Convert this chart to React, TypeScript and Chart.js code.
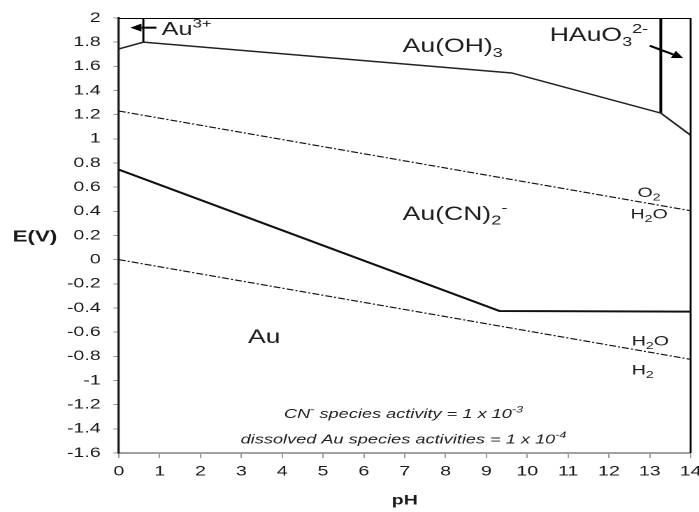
import React, { useEffect, useRef } from 'react';
import { Chart, registerables } from 'chart.js';

Chart.register(...registerables);

// ---------- data ----------
const xTickValues = [0, 1, 2, 3, 4, 5, 6, 7, 8, 9, 10, 11, 12, 13, 14];
const yRange = [-1.6, 2];
const yStep = 0.2;

// Au | Au(CN)2- boundary
const auCnPH = [0, 9.32, 14];
const auCnE = [0.745, -0.425, -0.43];
// Au(CN)2- | Au3+ / Au(OH)3 / HAuO3 2- boundary
const upperPH = [0, 0.6, 9.62, 13.27, 14];
const upperE = [1.744, 1.8, 1.545, 1.213, 1.03];
// Au3+ | Au(OH)3 boundary
const au3PH = [0.6, 0.6];
const au3E = [1.8, 2.0];
// Au(OH)3 | HAuO3 2- boundary
const hauPH = [13.27, 13.27];
const hauE = [1.213, 2.0];
// water stability lines
const o2PH = [0, 14];
const o2E = [1.23, 0.405];
const h2PH = [0, 14];
const h2E = [0, -0.825];

// arrows [pH, E]
const arrowAu3 = { from: [0.92, 1.92], to: [0.28, 1.92] };
const arrowHAuO3 = { from: [13.0, 1.77], to: [13.82, 1.668] };

// ---------- presentation ----------
const FONT = '"Liberation Sans", Arial, Helvetica, sans-serif';
const CW = 500;
const CH = 512;
const S = 699 / CW;

type Seg = { t: string; s?: 'sub' | 'sup' };
type Lbl = { segs: Seg[]; pH: number; E: number; size: number; italic?: boolean; align?: 'left' | 'center' };

const labels: Lbl[] = [
  { segs: [{ t: 'Au' }, { t: '3+', s: 'sup' }], pH: 1.05, E: 1.86, size: 18 },
  { segs: [{ t: 'Au(OH)' }, { t: '3', s: 'sub' }], pH: 6.95, E: 1.72, size: 19 },
  { segs: [{ t: 'HAuO' }, { t: '3', s: 'sub' }, { t: '2-', s: 'sup' }], pH: 10.55, E: 1.81, size: 19 },
  { segs: [{ t: 'Au(CN)' }, { t: '2', s: 'sub' }, { t: '-', s: 'sup' }], pH: 6.95, E: 0.33, size: 19 },
  { segs: [{ t: 'Au' }], pH: 3.16, E: -0.69, size: 19 },
  { segs: [{ t: 'O' }, { t: '2', s: 'sub' }], pH: 12.7, E: 0.52, size: 14 },
  { segs: [{ t: 'H' }, { t: '2', s: 'sub' }, { t: 'O' }], pH: 12.53, E: 0.34, size: 14 },
  { segs: [{ t: 'H' }, { t: '2', s: 'sub' }, { t: 'O' }], pH: 12.56, E: -0.71, size: 14 },
  { segs: [{ t: 'H' }, { t: '2', s: 'sub' }], pH: 12.56, E: -0.95, size: 14 },
  {
    segs: [{ t: 'CN' }, { t: '-', s: 'sup' }, { t: ' species activity = 1 x 10' }, { t: '-3', s: 'sup' }],
    pH: 6.97, E: -1.31, size: 13, italic: true, align: 'center',
  },
  {
    segs: [{ t: 'dissolved Au species activities = 1 x 10' }, { t: '-4', s: 'sup' }],
    pH: 6.97, E: -1.52, size: 13, italic: true, align: 'center',
  },
];

function drawRich(ctx: CanvasRenderingContext2D, x: number, y: number, segs: Seg[], size: number,
  italic = false, bold = false, align: 'left' | 'center' = 'left') {
  const fontFor = (sz: number) => `${italic ? 'italic ' : ''}${bold ? 'bold ' : ''}${sz}px ${FONT}`;
  const parts = segs.map((seg) => {
    const sz = seg.s ? Math.round(size * 0.68) : size;
    ctx.font = fontFor(sz);
    return { ...seg, sz, w: ctx.measureText(seg.t).width };
  });
  const total = parts.reduce((a, p) => a + p.w, 0);
  let cx = align === 'center' ? x - total / 2 : x;
  ctx.textAlign = 'left';
  ctx.textBaseline = 'alphabetic';
  for (const p of parts) {
    ctx.font = fontFor(p.sz);
    const dy = p.s === 'sub' ? size * 0.26 : p.s === 'sup' ? -size * 0.42 : 0;
    ctx.fillText(p.t, cx, y + dy);
    cx += p.w;
  }
}

function drawArrow(ctx: CanvasRenderingContext2D, x0: number, y0: number, x1: number, y1: number) {
  const ang = Math.atan2(y1 - y0, x1 - x0);
  const len = 8;
  const hw = 4;
  const bx = x1 - Math.cos(ang) * len;
  const by = y1 - Math.sin(ang) * len;
  ctx.beginPath();
  ctx.moveTo(x0, y0);
  ctx.lineTo(bx, by);
  ctx.lineWidth = 2;
  ctx.strokeStyle = '#000';
  ctx.stroke();
  ctx.beginPath();
  ctx.moveTo(x1, y1);
  ctx.lineTo(bx + Math.sin(ang) * hw, by - Math.cos(ang) * hw);
  ctx.lineTo(bx - Math.sin(ang) * hw, by + Math.cos(ang) * hw);
  ctx.closePath();
  ctx.fillStyle = '#000';
  ctx.fill();
}

const decor = {
  id: 'decor',
  afterDatasetsDraw(chart: any) {
    const { ctx, chartArea } = chart;
    const xs = chart.scales.x;
    const ys = chart.scales.y;
    ctx.save();
    // top & right frame
    ctx.strokeStyle = '#000';
    ctx.lineWidth = 1;
    ctx.beginPath();
    ctx.moveTo(chartArea.left, chartArea.top + 0.5);
    ctx.lineTo(chartArea.right, chartArea.top + 0.5);
    ctx.stroke();
    ctx.lineWidth = 1.4;
    ctx.beginPath();
    ctx.moveTo(chartArea.right, chartArea.top);
    ctx.lineTo(chartArea.right, chartArea.bottom);
    ctx.stroke();

    // arrows
    for (const a of [arrowAu3, arrowHAuO3]) {
      drawArrow(ctx, xs.getPixelForValue(a.from[0]), ys.getPixelForValue(a.from[1]),
        xs.getPixelForValue(a.to[0]), ys.getPixelForValue(a.to[1]));
    }

    // labels
    ctx.fillStyle = '#1e1e1e';
    for (const l of labels) {
      drawRich(ctx, xs.getPixelForValue(l.pH), ys.getPixelForValue(l.E), l.segs, l.size,
        !!l.italic, false, l.align || 'left');
    }

    // y axis title (horizontal)
    ctx.fillStyle = '#1a1a1a';
    drawRich(ctx, chartArea.left - 60, ys.getPixelForValue(0.2) + 6, [{ t: 'E(V)' }], 16, false, true, 'center');
    ctx.restore();
  },
};

function fmt(v: number) {
  const s = Number(v).toFixed(1);
  return s.endsWith('.0') ? s.slice(0, -2).replace('-0', '0') : s;
}

const pts = (xs: number[], ys: number[]) => xs.map((x, i) => ({ x, y: ys[i] }));

export default function App() {
  const ref = useRef<HTMLCanvasElement>(null);
  useEffect(() => {
    const canvas = ref.current;
    if (!canvas) return;
    const line = (data: any, width: number, color: string, dash: number[] = []) => ({
      data, showLine: true, borderColor: color, borderWidth: width, borderDash: dash,
      pointRadius: 0, pointHoverRadius: 0, fill: false, tension: 0,
    });
    const dashDot = [5, 1.5, 1.5, 1.5];
    const chart = new Chart(canvas, {
      type: 'scatter',
      data: {
        datasets: [
          line(pts(o2PH, o2E), 1.2, '#111', dashDot),
          line(pts(h2PH, h2E), 1.2, '#111', dashDot),
          line(pts(auCnPH, auCnE), 2, '#111'),
          line(pts(upperPH, upperE), 1.5, '#222'),
          line(pts(au3PH, au3E), 1.5, '#000'),
          line(pts(hauPH, hauE), 2, '#000'),
        ] as any,
      },
      options: {
        animation: false,
        responsive: false,
        devicePixelRatio: 2,
        events: [],
        layout: { padding: { left: 0, right: CW - 494, top: 18, bottom: 0 } },
        plugins: { legend: { display: false }, tooltip: { enabled: false }, title: { display: false } },
        scales: {
          x: {
            type: 'linear',
            min: 0,
            max: 14,
            afterBuildTicks: (s: any) => { s.ticks = xTickValues.map((v) => ({ value: v })); },
            afterFit: (s: any) => {
              s.height = CH - 453;
              s.paddingLeft = 0; s.paddingRight = 0; s.paddingTop = 0; s.paddingBottom = 0;
            },
            grid: { drawOnChartArea: false, drawTicks: true, tickLength: 5, tickColor: '#9a9a9a', tickWidth: 1 },
            border: { display: true, color: '#a0a0a0', width: 2 },
            ticks: {
              autoSkip: false, maxRotation: 0, padding: 5, color: '#1a1a1a',
              font: { family: FONT, size: 14 },
              callback: (v: any) => String(v),
            },
            title: {
              display: true, text: 'pH', color: '#1a1a1a',
              font: { family: FONT, size: 14, weight: 'bold' },
              padding: { top: 0, bottom: 3 },
            },
          },
          y: {
            type: 'linear',
            min: yRange[0],
            max: yRange[1],
            ticks: {
              stepSize: yStep, autoSkip: false, padding: 9, color: '#1a1a1a',
              font: { family: FONT, size: 14 },
              callback: (v: any) => fmt(v),
            },
            afterFit: (s: any) => {
              s.width = 85;
              s.paddingLeft = 0; s.paddingRight = 0; s.paddingTop = 0; s.paddingBottom = 0;
            },
            grid: { drawOnChartArea: false, drawTicks: true, tickLength: 4, tickColor: '#9a9a9a', tickWidth: 1 },
            border: { display: true, color: '#1a1a1a', width: 1.6 },
          },
        },
      } as any,
      plugins: [decor],
    });
    return () => chart.destroy();
  }, []);
  return (
    <div style={{ position: 'fixed', left: 0, top: 0, width: 699, height: 512, overflow: 'hidden', background: '#fff' }}>
      <canvas
        ref={ref}
        width={CW}
        height={CH}
        style={{ display: 'block', width: CW, height: CH, transform: `scaleX(${S})`, transformOrigin: '0 0' }}
      />
    </div>
  );
}
